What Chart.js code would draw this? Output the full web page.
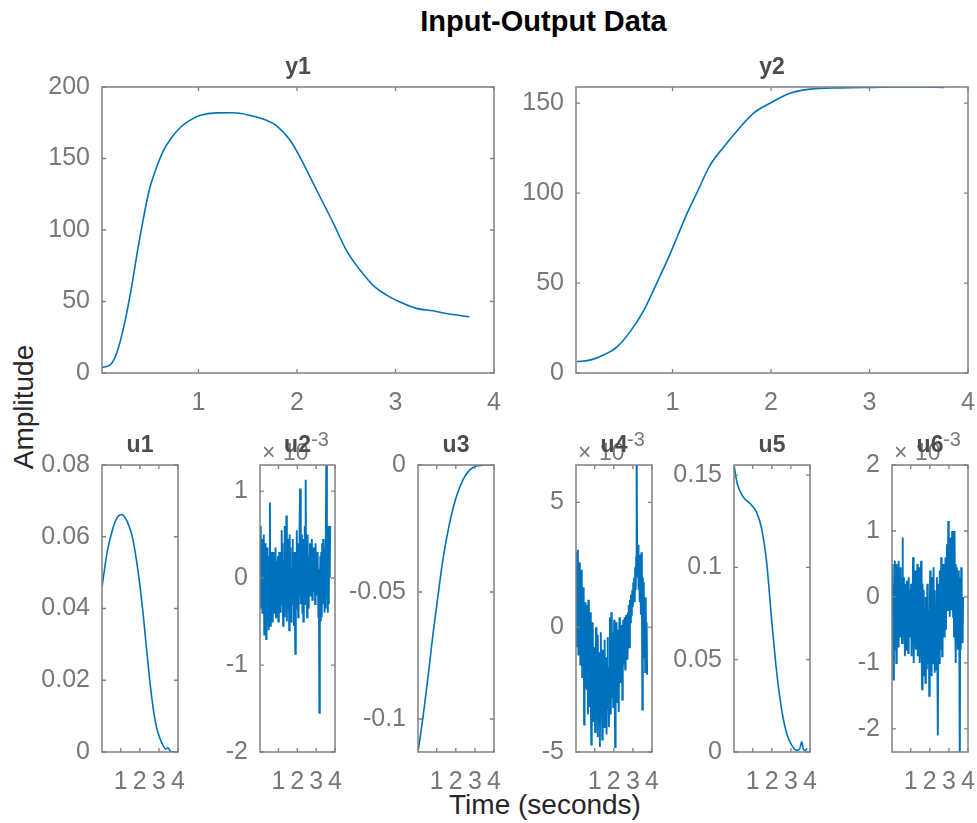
<!DOCTYPE html>
<html>
<head>
<meta charset="utf-8">
<script src="https://cdn.jsdelivr.net/npm/chart.js@4.4.1/dist/chart.umd.min.js"></script>
<style>
html,body{margin:0;padding:0;background:#fff;width:977px;height:823px;overflow:hidden;}
body{position:relative;font-family:"Liberation Sans",Arial,Helvetica,sans-serif;}
canvas{position:absolute;}
.lbl{position:absolute;white-space:nowrap;line-height:1;}
</style>
</head>
<body>
<div class="lbl" id="suptitle" style="left:343.5px;width:400px;text-align:center;top:7px;font-size:29px;font-weight:bold;color:#000;">Input-Output Data</div>
<div class="lbl" id="xlabel" style="left:345px;width:400px;text-align:center;top:791px;font-size:28px;color:#262626;">Time (seconds)</div>
<div class="lbl" id="ylabel" style="left:23.6px;top:406.5px;font-size:28px;color:#262626;transform:translate(-50%,-50%) rotate(-90deg);">Amplitude</div>
<script>
// ---------------- data ----------------
const timeTicks = [1, 2, 3, 4];
const timeMin = 0.02, timeMax = 4;

// y1 (output 1)
const tY1 = [0.02, 0.10, 0.17, 0.25, 0.32, 0.38, 0.44, 0.50, 0.57, 0.64, 0.72, 0.82, 0.92, 1.02, 1.18, 1.35, 1.52, 1.69, 1.79, 1.93, 2.03, 2.20, 2.37, 2.50, 2.64, 2.77, 2.91, 3.04, 3.21, 3.38, 3.55, 3.75];
const y1 = [4.0, 5.5, 14, 35, 60, 85, 108, 128, 143, 155, 164, 172, 177, 180.2, 181.9, 182, 180.2, 176.7, 173, 162.8, 151, 127.8, 104.6, 86, 72, 61.5, 54.5, 49.8, 45.2, 43.5, 41.2, 39.3];
const y1Ticks = [0, 50, 100, 150, 200];

// y2 (output 2)
const tY2 = [0.03, 0.17, 0.30, 0.44, 0.57, 0.71, 0.84, 0.95, 1.05, 1.15, 1.25, 1.38, 1.52, 1.66, 1.82, 1.99, 2.20, 2.40, 2.70, 3.04, 3.28, 3.50, 3.76];
const y2 = [6.3, 7.3, 10, 14.7, 23, 35, 50, 63, 76, 89, 100.5, 115.4, 125.7, 135, 144.4, 150, 155.6, 157.8, 158.5, 158.8, 159, 159, 158.8];
const y2Ticks = [0, 50, 100, 150];

// u1
const tU1 = [0.02, 0.30, 0.60, 0.80, 1.04, 1.25, 1.47, 1.64, 1.82, 1.99, 2.17, 2.34, 2.52, 2.69, 2.87, 3.04, 3.21, 3.35, 3.48, 3.57, 3.65, 3.82];
const u1 = [0.046, 0.056, 0.0625, 0.0652, 0.0662, 0.0652, 0.0625, 0.0592, 0.0536, 0.0471, 0.0387, 0.0294, 0.0200, 0.0126, 0.0070, 0.0040, 0.0019, 0.0008, 0.0012, 0.0004, 0.0001, 0.0];
const u1Ticks = [0, 0.02, 0.04, 0.06, 0.08];

// noisy inputs: sampled every 0.025 s from 0.02 s (values in units of 10^-3)
const noiseStart = 0.02, noiseStep = 0.025;
const u2 = [
  0.55,-0.35,0.6,-0.2,0.45,-0.4,0.3,-0.1,0.5,
  -0.65,0.2,-0.3,0.4,-0.7,0.1,-0.45,0.35,-0.2,-0.6,0.25,-0.1,0.87,-0.55,0.15,-0.35,0.3,
  -0.5,0.05,-0.25,0.3,-0.4,0.1,-0.15,0.35,-0.45,-0.05,0.2,-0.3,0.25,-0.5,0.0,0.3,-0.2,0.15,-0.4,0.1,
  0.55,-0.3,0.4,-0.55,0.2,-0.1,0.6,-0.45,0.3,-0.2,0.72,-0.5,0.1,0.45,-0.35,
  0.2,-0.6,0.5,-0.25,0.35,-0.5,0.1,-0.3,0.45,-0.2,0.3,-0.55,0.15,-0.4,-0.87,
  0.3,-0.35,0.55,-0.1,0.4,-0.45,0.2,-0.2,0.6,1.03,-0.3,0.35,-0.15,0.5,-0.4,
  0.2,-0.5,0.45,-0.1,0.6,-0.3,1.13,-0.2,0.3,-0.45,0.5,0.05,-0.35,0.25,-0.15,
  0.4,-0.2,0.3,0.0,0.45,-0.25,0.2,0.05,0.35,-0.15,0.25,-0.3,0.4,0.1,-0.2,0.3,-0.1,
  0.2,-0.45,0.1,-1.55,-0.3,0.25,-0.5,
  0.3,-0.45,0.4,-0.3,0.45,-0.1,0.35,-0.4,0.2,-0.35,0.3,
  1.6,-0.2,0.5,-0.4,0.6,-0.3,0.45,0.0,0.6
];
const u2Ticks = [-2, -1, 0, 1];

// u3
const tU3 = [0.02, 0.28, 0.54, 0.80, 1.07, 1.33, 1.68, 2.03, 2.38, 2.73, 3.08, 3.40, 3.77];
const u3 = [-0.113, -0.0994, -0.0838, -0.0669, -0.0513, -0.0370, -0.0227, -0.0124, -0.0058, -0.0019, -0.0004, -0.0001, 0];
const u3Ticks = [-0.1, -0.05, 0];

const u4 = [
  3.0,-0.8,2.8,0.2,3.1,-1.1,2.2,0.5,2.6,
  -1.5,1.8,-0.5,2.3,-2.0,1.2,-1.2,1.6,-3.9,0.8,-1.8,1.0,-2.2,
  0.9,-2.5,0.3,-3.5,1.1,-2.0,-0.5,-3.2,0.6,-2.8,-4.7,-1.0,-3.0,0.2,-2.4,-3.8,-0.8,-2.6,-4.2,-1.2,0.0,
  -3.5,-1.5,-4.4,-0.3,-2.8,-3.9,-1.0,-4.8,-2.0,-0.2,-3.6,-2.4,-4.5,-0.9,-3.0,-1.8,-4.0,-0.5,-2.9,-3.7,-1.2,-4.3,-2.2,-0.4,-3.3,-1.6,-4.0,-2.6,
  0.4,-2.1,-3.5,0.6,-1.4,-2.8,-0.2,-3.2,-1.0,0.3,-2.5,-4.8,-0.8,-2.0,0.2,-3.0,-1.5,-0.1,-2.6,-3.4,0.4,-1.2,-2.2,-0.3,-1.7,0.1,-2.9,-0.9,
  0.3,-1.5,-0.4,0.4,-1.7,-0.2,0.5,-1.0,0.2,-1.3,0.6,-0.6,0.9,-0.8,1.1,0.2,1.3,0.5,
  1.0,1.5,0.8,1.8,
  1.2,2.0,1.0,2.4,1.5,2.8,
  7.5,
  3.2,2.0,3.3,1.5,2.9,1.0,2.7,2.2,0.5,3.0,1.2,
  -3.3,
  2.0,-0.5,1.8,-1.2,0.8,-1.8,1.2,-1.0,0.2,-1.9
];
const u4Ticks = [-5, 0, 5];

// u5
const tU5 = [0.02, 0.19, 0.50, 0.86, 1.20, 1.47, 1.73, 1.99, 2.26, 2.52, 2.78, 3.04, 3.31, 3.45, 3.57, 3.66, 3.74, 3.85];
const u5 = [0.1555, 0.1455, 0.1382, 0.1346, 0.1300, 0.1209, 0.1028, 0.0718, 0.0428, 0.0227, 0.0100, 0.0037, 0.0009, 0.0015, 0.0055, 0.0012, 0.0009, 0.002];
const u5Ticks = [0, 0.05, 0.1, 0.15];

const u6 = [
  0.5,-0.3,0.4,-1.25,0.2,-0.8,0.55,-0.5,0.3,-1.0,
  0.5,-0.4,0.2,-0.75,0.55,-0.2,0.3,-0.6,0.45,-0.1,0.1,-0.7,0.9,-0.3,
  0.3,-0.6,0.1,-0.9,0.2,-0.3,-0.8,0.25,-0.5,0.0,-0.85,0.3,-0.4,0.1,-0.6,-0.2,0.2,-0.9,0.0,-0.5,0.6,
  -0.3,-1.0,0.3,-0.5,0.4,-0.8,0.0,-0.6,0.5,-0.9,0.2,-0.4,0.45,-1.0,-0.2,0.3,0.55,-0.7,
  -1.4,0.2,-0.6,-1.2,0.1,-0.9,-0.3,-1.3,0.0,-0.7,-1.1,0.2,-0.5,-1.0,-0.2,-1.5,-0.4,
  0.4,-0.8,-0.2,-1.2,0.3,-0.6,-1.0,0.45,-0.4,-1.15,0.1,-0.7,-0.2,-1.1,0.3,-0.9,-2.1,
  -0.5,0.2,-1.0,0.4,-0.3,-0.8,0.6,-0.1,-0.9,0.3,-0.4,0.5,-0.6,0.2,-0.2,0.6,-0.5,0.4,
  0.8,-0.2,0.5,1.15,0.1,0.7,-0.3,0.9,0.3,0.6,-0.2,1.0,0.4,-0.3,
  0.7,-0.6,1.0,-0.2,0.5,-1.0,0.45,-0.5,0.3,-0.8,0.4,-0.1,-0.6,-2.6,
  0.3,-0.8,0.45,-0.3,0.0,-0.7,0.0
];
const u6Ticks = [-2, -1, 0, 1, 2];

// ---------------- styling / layout ----------------
const FONT = '"Liberation Sans", Arial, Helvetica, sans-serif';
const LINE_COLOR = '#0072BD';
const AXIS_COLOR = '#808080';
const TICK_COLOR = '#787878';
const TITLE_COLOR = '#4d4d4d';

function noiseTimes(n) { const out = []; for (let i = 0; i < n; i++) out.push(noiseStart + i * noiseStep); return out; }

const panels = [
  {title:'y1', t:tY1, v:y1, yMin:0, yMax:200, yTicks:y1Ticks, smooth:true, box:[102,87,494,373]},
  {title:'y2', t:tY2, v:y2, yMin:0, yMax:159, yTicks:y2Ticks, smooth:true, box:[576,87,968,373]},
  {title:'u1', t:tU1, v:u1, yMin:0, yMax:0.08, yTicks:u1Ticks, smooth:true, box:[102,465,178,752]},
  {title:'u2', t:noiseTimes(u2.length), v:u2, yMin:-2, yMax:1.3, yTicks:u2Ticks, exp:true, box:[260,465,335,752]},
  {title:'u3', t:tU3, v:u3, yMin:-0.113, yMax:0, yTicks:u3Ticks, smooth:true, box:[418,465,494,752]},
  {title:'u4', t:noiseTimes(u4.length), v:u4, yMin:-5, yMax:6.5, yTicks:u4Ticks, exp:true, box:[576,465,652,752]},
  {title:'u5', t:tU5, v:u5, yMin:0, yMax:0.1555, yTicks:u5Ticks, smooth:true, box:[734,465,810,752]},
  {title:'u6', t:noiseTimes(u6.length), v:u6, yMin:-2.35, yMax:2, yTicks:u6Ticks, exp:true, box:[892,465,968,752]}
];

function boxPlugin(p) {
  return {
    id: 'matlabBox',
    afterDraw(chart) {
      const {ctx, chartArea: a, scales} = chart;
      const tl = 4;
      ctx.save();
      ctx.strokeStyle = AXIS_COLOR;
      ctx.lineWidth = 1.3;
      ctx.beginPath();
      scales.x.ticks.forEach(t => {
        const x = scales.x.getPixelForValue(t.value);
        ctx.moveTo(x, a.bottom); ctx.lineTo(x, a.bottom - tl);
        ctx.moveTo(x, a.top); ctx.lineTo(x, a.top + tl);
      });
      scales.y.ticks.forEach(t => {
        const y = scales.y.getPixelForValue(t.value);
        ctx.moveTo(a.left, y); ctx.lineTo(a.left + tl, y);
        ctx.moveTo(a.right, y); ctx.lineTo(a.right - tl, y);
      });
      ctx.stroke();
      ctx.lineWidth = 1.5;
      ctx.strokeRect(a.left, a.top, a.right - a.left, a.bottom - a.top);
      // exponent label (drawn first, title on top)
      if (p.exp) {
        ctx.fillStyle = TICK_COLOR;
        ctx.textAlign = 'left';
        ctx.textBaseline = 'alphabetic';
        ctx.font = '23px ' + FONT;
        ctx.fillText('\u00d7', a.left + 2, a.top - 5);
        ctx.fillText('10', a.left + 23, a.top - 5);
        ctx.font = '20px ' + FONT;
        ctx.fillText('-3', a.left + 51, a.top - 19);
      }
      // subplot title, centred over the axes box
      ctx.fillStyle = TITLE_COLOR;
      ctx.textAlign = 'center';
      ctx.textBaseline = 'middle';
      ctx.font = 'bold 23px ' + FONT;
      ctx.fillText(p.title, (a.left + a.right) / 2, a.top - 19);
      ctx.restore();
    }
  };
}

function makePanel(p) {
  const padL = 100, padR = 100, padT = 45, padB = 45;
  const [L, T, R, B] = p.box;
  const w = R - L, h = B - T;
  const c = document.createElement('canvas');
  c.width = padL + w + padR; c.height = padT + h + padB;
  c.style.left = (L - padL) + 'px'; c.style.top = (T - padT) + 'px';
  c.style.width = c.width + 'px'; c.style.height = c.height + 'px';
  document.body.appendChild(c);
  new Chart(c, {
    type: 'line',
    data: { datasets: [{
      label: p.title,
      data: p.t.map((x, i) => ({x: x, y: p.v[i]})),
      borderColor: LINE_COLOR, borderWidth: p.exp ? 1.9 : 1.6, pointRadius: 0, fill: false,
      tension: 0, cubicInterpolationMode: p.smooth ? 'monotone' : 'default'
    }]},
    options: {
      responsive: false, animation: false, events: [],
      layout: { padding: { top: padT, right: padR, left: 0, bottom: 0 } },
      plugins: { legend: { display: false }, tooltip: { enabled: false }, title: { display: false } },
      scales: {
        x: {
          type: 'linear', min: timeMin, max: timeMax, bounds: 'data',
          afterBuildTicks: ax => { ax.ticks = timeTicks.map(v => ({value: v})); },
          afterFit: ax => { ax.height = padB; },
          grid: { display: false, drawTicks: false }, border: { display: false },
          ticks: { autoSkip: false, maxRotation: 0, minRotation: 0, padding: 15, color: TICK_COLOR,
                   font: { family: FONT, size: 25 }, callback: v => String(v) }
        },
        y: {
          type: 'linear', min: p.yMin, max: p.yMax, bounds: 'data',
          afterBuildTicks: ax => { ax.ticks = p.yTicks.map(v => ({value: v})); },
          afterFit: ax => { ax.width = padL; },
          grid: { display: false, drawTicks: false }, border: { display: false },
          ticks: { autoSkip: false, padding: 12, color: TICK_COLOR,
                   font: { family: FONT, size: 25 }, callback: v => String(v) }
        }
      }
    },
    plugins: [boxPlugin(p)]
  });
}

panels.forEach(makePanel);
</script>
</body>
</html>
